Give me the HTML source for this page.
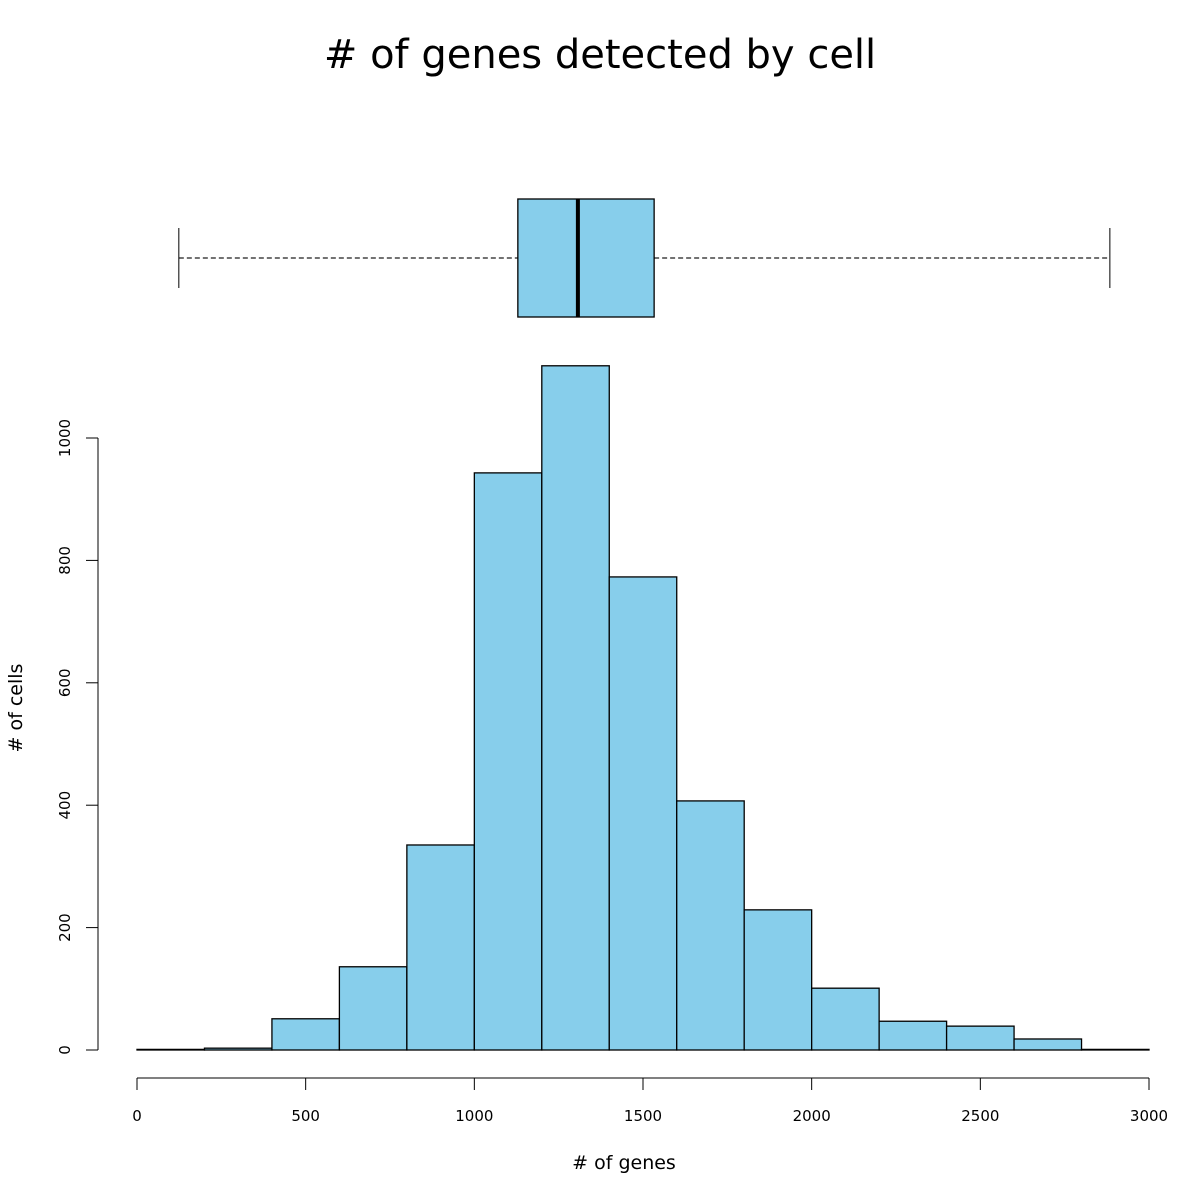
<!DOCTYPE html>
<html><head><meta charset="utf-8"><style>body{margin:0;background:#fff}svg{display:block}text{font-family:"DejaVu Sans","Liberation Sans",sans-serif}</style></head>
<body>
<svg id="chart" width="1200" height="1200" viewBox="0 0 1200 1200">
<text x="600" y="68" font-size="40" text-anchor="middle">#&#160;of genes detected by cell</text>
<text x="624" y="1169" font-size="19" text-anchor="middle">#&#160;of genes</text>
<text transform="translate(22,708) rotate(-90)" font-size="19" text-anchor="middle">#&#160;of cells</text>
<g id="bars"></g><g id="box"></g><g id="xaxis"></g><g id="yaxis"></g>
</svg>
<script>
const binStarts=[0,200,400,600,800,1000,1200,1400,1600,1800,2000,2200,2400,2600,2800];
const binWidth=200;
const counts=[1,3,51,136,335,943,1118,773,407,229,101,47,39,18,1];
const xTicks=[0,500,1000,1500,2000,2500,3000];
const yTicks=[0,200,400,600,800,1000];
const boxStats=[124,1129,1307,1533,2884]; // min,q1,median,q3,max
const NS="http://www.w3.org/2000/svg";
const X=v=>137+v*(1012/3000), Y=v=>1050-v*0.612;
function mk(p,t,a){const e=document.createElementNS(NS,t);for(const k in a)e.setAttribute(k,a[k]);p.appendChild(e);return e;}
const bars=document.getElementById('bars');
binStarts.forEach((s,i)=>{const y=Y(counts[i]);
const r=mk(bars,'rect',{x:X(s),y:y,width:X(s+binWidth)-X(s),height:1050-y,fill:'#87ceeb',stroke:'#000','stroke-width':1.3});

});
const xa=document.getElementById('xaxis');


mk(xa,'line',{x1:X(xTicks[0]),x2:X(xTicks[xTicks.length-1]),y1:1078,y2:1078,stroke:'#000'});
xTicks.forEach(t=>{mk(xa,'line',{x1:X(t),x2:X(t),y1:1078,y2:1090,stroke:'#000'});
const tx=mk(xa,'text',{x:X(t),y:1121,'font-size':15,'text-anchor':'middle'});tx.textContent=t;

});
const ya=document.getElementById('yaxis');


mk(ya,'line',{x1:98,x2:98,y1:Y(yTicks[0]),y2:Y(yTicks[yTicks.length-1]),stroke:'#000'});
yTicks.forEach(t=>{mk(ya,'line',{x1:86,x2:98,y1:Y(t),y2:Y(t),stroke:'#000'});
const tx=mk(ya,'text',{transform:`translate(70,${Y(t)}) rotate(-90)`,'font-size':15,'text-anchor':'middle'});tx.textContent=t;

});
const bx=document.getElementById('box');


const [mn,q1,md,q3,mx]=boxStats;
mk(bx,'line',{x1:X(mn),x2:X(q1),y1:258,y2:258,stroke:'#444','stroke-dasharray':'5,3','stroke-width':1.5});
mk(bx,'line',{x1:X(q3),x2:X(mx),y1:258,y2:258,stroke:'#444','stroke-dasharray':'5,3','stroke-width':1.5});
mk(bx,'line',{x1:X(mn),x2:X(mn),y1:228,y2:288,stroke:'#000'});
mk(bx,'line',{x1:X(mx),x2:X(mx),y1:228,y2:288,stroke:'#000'});
mk(bx,'rect',{x:X(q1),y:199,width:X(q3)-X(q1),height:118,fill:'#87ceeb',stroke:'#000','stroke-width':1.3});
mk(bx,'line',{x1:X(md),x2:X(md),y1:199,y2:317,stroke:'#000','stroke-width':4});
</script>
</body></html>
